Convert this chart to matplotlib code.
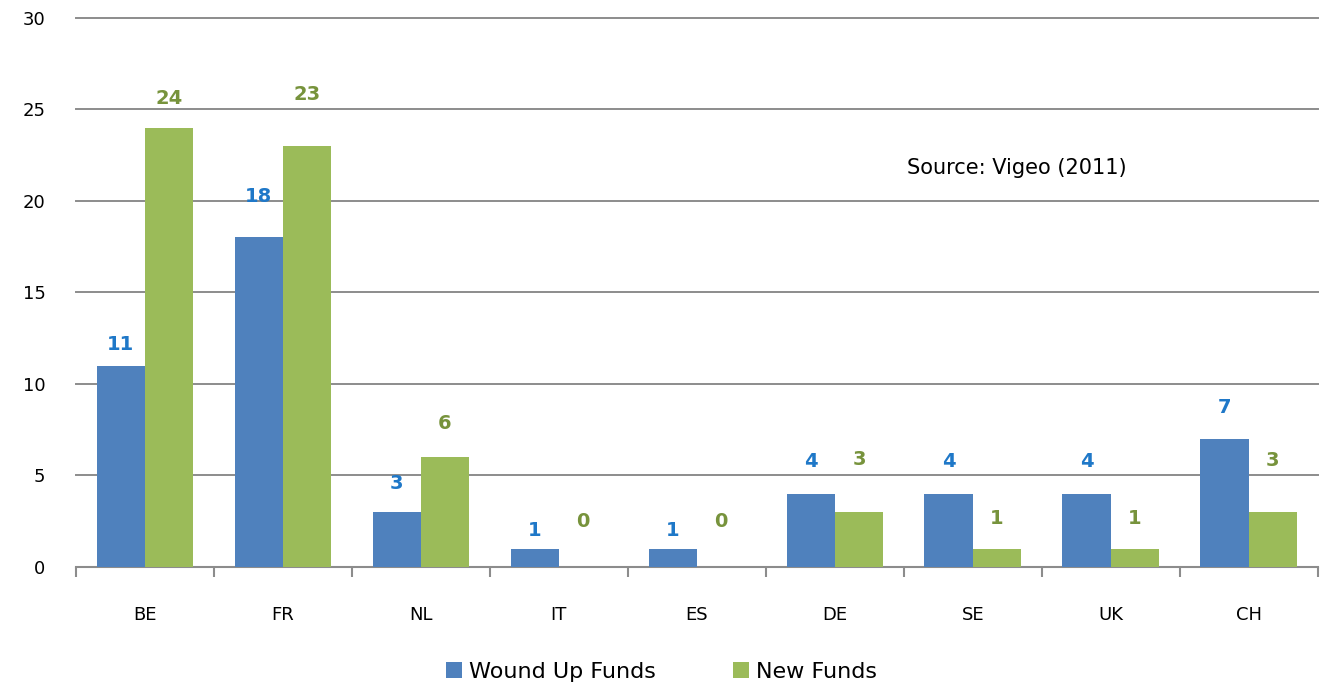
import matplotlib
matplotlib.use("Agg")
import matplotlib.pyplot as plt
import numpy as np

countries = ["BE", "FR", "NL", "IT", "ES", "DE", "SE", "UK", "CH"]
wound_up = [11, 18, 3, 1, 1, 4, 4, 4, 7]
new_funds = [24, 23, 6, 0, 0, 3, 1, 1, 3]

# hand-placed data label offsets above each bar, in pixels
wound_up_lift = [21, 41, 29, 18, 18, 32, 32, 32, 31]
new_funds_lift = [29, 51, 34, 45, 45, 53, 30, 30, 52]

BLUE = "#4f81bd"
GREEN = "#9bbb59"
BLUE_TXT = "#1f78c8"
GREEN_TXT = "#77933c"

plt.rcParams["font.family"] = "DejaVu Sans"

fig = plt.figure(figsize=(13.23, 6.88), dpi=100)
ax = fig.add_axes([0.0574, 0.176, 0.9386, 0.798])

x = np.arange(len(countries))
w = 0.35
b1 = ax.bar(x - w / 2, wound_up, w, color=BLUE, label="Wound Up Funds", zorder=3)
b2 = ax.bar(x + w / 2, new_funds, w, color=GREEN, label="New Funds", zorder=3)

for bars, vals, lifts, col in [(b1, wound_up, wound_up_lift, BLUE_TXT),
                               (b2, new_funds, new_funds_lift, GREEN_TXT)]:
    for rect, v, dy in zip(bars, vals, lifts):
        ax.annotate(str(v), (rect.get_x() + rect.get_width() / 2, v),
                    xytext=(0, dy), textcoords="offset pixels", ha="center",
                    va="center", color=col, fontweight="bold", fontsize=14)

ax.set_xlim(-0.5, len(countries) - 0.5)
ax.set_ylim(0, 30)
ax.set_yticks(range(0, 31, 5))
ax.yaxis.grid(True, color="#8c8c8c", linewidth=1.4, zorder=0)
for gl in ax.get_ygridlines():
    gl.set_clip_on(False)
ax.tick_params(axis="y", length=0, labelsize=13, pad=22)

ax.set_xticks(x)
ax.set_xticklabels(countries, fontsize=13)
ax.tick_params(axis="x", length=0, pad=28)
ax.set_xticks(np.arange(-0.5, len(countries)), minor=True)
ax.tick_params(axis="x", which="minor", length=7, width=1.5, color="#8c8c8c", direction="out")

for s in ["top", "right", "left"]:
    ax.spines[s].set_visible(False)
ax.spines["bottom"].set_color("#8c8c8c")
ax.spines["bottom"].set_linewidth(1.5)

ax.text(0.669, 0.727, "Source: Vigeo (2011)", transform=ax.transAxes,
        fontsize=15, ha="left", va="center")

fig.legend(loc="lower center", bbox_to_anchor=(0.5, -0.02), ncol=2,
           frameon=False, fontsize=16, handlelength=0.7, handleheight=0.7,
           columnspacing=3.5, handletextpad=0.3)

fig.savefig("out.png", dpi=100)
